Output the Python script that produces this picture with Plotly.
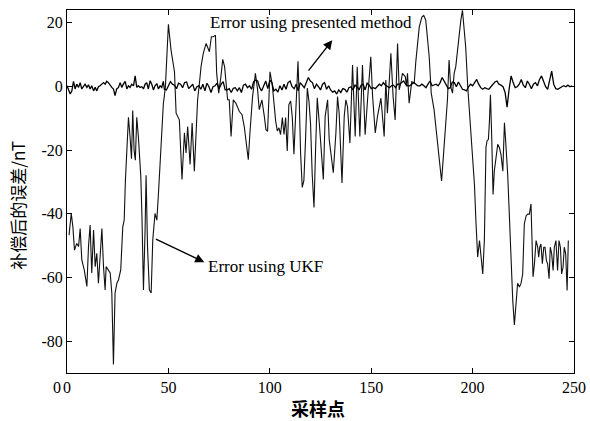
import plotly.graph_objects as go

# ---------------- data ----------------
ukf_x = [1.0, 2.1, 2.9, 3.7, 4.8, 5.7, 6.5, 7.3, 8.5, 9.8, 10.6, 11.4, 12.2, 13.1, 13.9, 14.7, 15.5, 16.3, 17.2, 18.0,
         18.8, 19.3, 20.1, 21.3, 22.1, 22.9, 23.7, 24.6, 25.4, 26.5, 27.5, 28.2, 28.8, 29.5, 30.3, 31.1, 31.8, 32.4, 33.1, 33.7,
         34.4, 35.2, 36.4, 37.0, 37.7, 38.5, 39.0, 39.7, 40.6, 41.5, 42.3, 43.4, 44.3, 45.1, 46.2, 47.5, 48.5, 49.2, 50.0,
         51.3, 53.0, 53.8, 55.4, 56.7, 57.9, 58.7, 59.5, 60.7, 61.7, 62.8, 63.6, 64.4, 65.3, 66.1, 67.2, 68.6, 70.2, 71.2, 72.2,
         73.2, 73.8, 74.8, 75.9, 76.8, 77.7, 78.4, 79.2, 80.0, 80.9, 82.0, 83.3, 85.0, 86.3, 87.4, 88.6, 89.4, 90.2, 91.5, 92.9,
         94.0, 94.8, 96.1, 97.3, 98.1, 98.9, 100.1,
         101.2, 102.1, 102.9, 103.7, 104.5, 105.3, 106.2, 107.0, 107.8, 108.6, 109.4, 110.3, 111.1, 111.9, 112.7, 113.9, 114.4,
         115.2, 116.0, 116.8, 117.6, 118.5, 119.3, 120.1, 120.9, 121.8, 122.6, 123.4,
         124.4, 125.7, 126.4, 127.3, 128.5, 129.3, 130.1, 131.3, 132.6, 133.4, 134.2, 135.6, 136.7, 137.5, 138.3, 139.5, 140.8,
         142.1, 143.1, 144.4, 145.7, 147.0, 148.2, 149.8, 150.7, 152.0, 153.1, 154.8, 156.4, 157.2, 158.0, 158.9, 159.7, 160.8,
         161.8, 163.0, 163.8, 164.6, 165.4, 166.8, 167.4, 167.9, 168.7, 170.0, 171.2, 172.0, 172.8, 173.7, 175.0, 175.9, 176.9,
         177.8, 178.6, 179.6, 181.0, 182.2, 183.5, 184.7, 185.6, 186.8, 187.6, 188.4, 189.2, 190.1, 190.9, 191.7, 193.0, 194.2,
         195.0, 195.8, 196.6, 197.6, 199.1, 200.1,
         200.9, 201.7, 202.5, 203.4, 204.2, 205.0, 205.8, 206.6, 207.1, 207.8, 208.3, 208.8, 209.4, 210.1, 210.7, 211.6, 212.4,
         213.2, 214.0, 214.9, 215.4, 215.7, 216.3, 217.3, 218.1, 218.9, 219.8, 220.6, 221.4, 222.2, 223.1, 223.9, 224.7, 225.5,
         226.4, 227.2, 228.0, 228.8, 229.3, 229.8, 230.5, 231.3, 232.1, 232.6, 233.1, 233.7, 234.4, 235.1, 235.7, 236.4, 237.0,
         237.7, 238.3, 239.0, 239.7, 240.3, 241.1, 241.9, 242.6, 243.3, 243.9, 244.6, 245.2, 245.9, 246.6, 247.2]

ukf_y = [-46.7, -39.9, -44.1, -51.4, -49.3, -50.3, -44.6, -54.5, -57.6, -62.8, -50.3, -43.5, -58.6, -45.1, -56.6, -52.4,
         -61.8, -52.4, -44.6, -56.6, -63.9, -56.6, -57.6, -58.6, -64.9, -87.3, -64.9, -61.8, -60.7, -57.6, -44.1, -42.0,
         -29.5, -21.1, -9.7, -15.9, -22.7, -7.6, -20.1, -23.2, -9.7, -15.9, -28.4, -42.0, -63.9, -45.1, -27.9, -50.3, -63.9,
         -64.9, -48.2, -39.9, -42.0, -33.6, -20.1, -5.5, -0.3, 9.1, 19.5,
         11.4, 4.6, -8.4, -10.5, -29.2, -14.6, -20.9, -12.6, -24.5, -11.5, -26.6, -16.7, -4.2, 1.0, 6.2, 10.4, 13.5, 10.9,
         15.6, 15.6, 16.1, 4.1, -2.1, 3.1, 8.5, 6.2, 0.0, -4.2, -4.2, -15.7, -4.2, -5.3, -7.9, -8.9, -12.6, -18.8, -23.0,
         -14.6, -3.2, 4.1, -1.1, -7.3, -4.2, -9.4, -13.6, -14.1, 4.6,
         0.6, -6.7, -10.9, -14.0, -13.0, -15.1, -9.8, -15.1, -9.8, -20.3, -5.7, -4.6, -9.8, -21.3, -9.8, 7.9, -1.5, -21.3,
         -31.7, -29.6, -17.1, -0.5, -4.6, -11.9, -27.6, -38.0, -19.2, -3.6,
         -11.5, -23.0, -29.2, -9.4, -4.2, -16.7, -20.9, -27.1, -14.6, -3.2, -8.4, -30.3, -9.4, -4.2, -6.3, -17.8, 6.7, -15.7,
         6.2, -15.7, 6.7, -15.2, -4.2, 9.3, -3.2, -14.6, -9.4, -3.7, -15.7, 2.0, -8.4, 3.1, 10.4, -3.2, -10.5, 13.5, -1.1,
         1.0, 4.1, 3.1, 0.0, 4.1, -5.3, 1.5, 1.0, 7.8, 13.5, 18.7, 21.8, 22.3, 20.8, 14.5, 9.3, -2.1, -7.3, -14.6, -21.9,
         -29.7, -21.9, -11.5, -4.2, 8.3, -0.1, -2.1, 4.1, 6.2, 14.5, 20.8, 23.9, 17.7, 12.4, -0.1, -14.6, -23.4,
         -30.7, -43.2, -53.6, -48.4, -53.1, -58.9, -48.4, -19.2, -17.1, -16.6, -10.9, -2.6, -15.1, -33.9, -26.6, -21.4, -18.2,
         -19.2, -21.4, -26.6, -17.1, -11.4, -17.1, -27.6, -40.1, -54.7, -67.2, -74.9, -67.2, -61.8, -63.0, -61.8, -58.9,
         -43.2, -40.6, -40.1, -40.1, -36.9, -48.4, -59.8, -55.7, -48.4, -50.5, -53.6, -50.5, -49.5, -55.7, -50.5, -50.5,
         -54.7, -55.7, -60.4, -50.5, -52.6, -57.8, -50.5, -48.4, -57.8, -48.4, -50.5, -58.9, -56.8, -50.5, -52.6, -64.1, -48.4]

pm_x_start = [0, 0.7, 1.6, 2.4, 3.2, 4.0, 4.8, 5.7, 6.5, 7.3, 8.1, 8.9, 9.8, 10.6, 11.4, 12.2, 13.1, 13.9, 14.7, 15.5,
              16.3, 17.2, 18.0, 18.8, 19.6, 20.4, 21.3, 22.1, 22.9, 23.7, 24.5, 25.4, 26.2, 27.0, 27.8, 28.7, 29.5, 30.3,
              31.1, 31.9, 32.8, 33.6, 34.4, 35.2, 36.0, 36.9, 37.7, 38.5, 39.3, 40.1, 41.0, 41.8, 42.6, 43.4, 44.3, 45.1,
              45.9, 46.7, 47.5]
pm_y_start = [0.2, -0.8, -2.4, -1.4, 1.6, -0.8, 0.7, -0.3, 1.2, -0.8, 0.2, 0.7, -0.3, 0.5, -0.8, 0.2, -1.4, -0.3, -1.4,
              -0.1, 0.2, 0.7, 1.2, 0.7, 1.6, 1.2, 0.2, -0.3, -0.8, -2.9, -0.8, -0.3, 1.2, -0.3, 0.7, 1.6, -0.8, 0.2, -0.3,
              0.7, 0.2, 3.3, -0.3, 0.2, -0.3, -0.1, -0.8, 0.7, 1.2, -0.8, 1.8, 0.7, -1.1, 0.2, 0.9, -0.8, 0.2, -0.3, 1.6]

pm_x_rest = list(range(48, 250))
pm_y_rest = [-0.9, -1.1, 0.2, 1.5, 0.7, 0.4, -0.7, 1.0, 0.7, -0.4,
             1.2, 1.4, -0.7, -0.1, 0.7, -1.4, -0.2, 0.2, -0.9, 0.7,
             -1.4, 1.0, -0.1, -1.9, -0.1, 0.2, 1.0, -0.7, 0.7, 1.5,
             -1.1, -1.1, -0.7, -1.9, -0.6, -0.4, -1.4, -0.4, -1.9, 0.4,
             0.7, -0.4, 0.2, -0.9, 1.4, 2.0, 1.7, -0.4, -1.4, 0.2,
             1.7, -0.7, 2.0, 1.2, -1.4, -0.9, -1.8, 0.2, -1.1, 0.7,
             -0.9, 1.2, 1.7, -0.1, -0.7, 0.7, -1.4, 1.2, 0.2, -0.4,
             1.2, 2.8, 1.7, 1.2, -0.7, 0.7, -0.1, -1.1, 0.7, 1.2,
             -0.9, 0.2, -1.1, -1.8, -1.4, -2.4, -1.1, -1.9, -0.7, -0.9,
             -1.8, -0.4, -0.1, -1.1, 0.4, -0.1, -1.1, 0.4, 0.7, -1.1,
             1.0, 0.4, -0.7,
             -0.4, -0.7, -0.1, 0.7, 0.2, 1.2, 0.4, -0.1, -0.4, 0.2,
             0.4, -0.4, 0.7, 0.7, 1.2, 1.7, 0.7, 0.2, 0.2, 0.7,
             1.2, 0.7, 0.2, 0.2, 0.7, 0.2, -0.4, 0.7, 1.7, 0.2,
             0.4, 0.7, 0.2, 1.2, 2.8, 1.7, 0.4, -0.7, -0.4, 1.4,
             1.2, -0.1, 1.4, 0.2, -0.9, -1.1, -1.4, -0.1, 0.7, 0.2,
             1.2, 2.2, 0.7, -0.4, -0.9, -0.4, -0.7, -0.9, -0.1, 0.7,
             1.4, 1.7, 0.7, 0.4, -0.1, -1.8, -6.5, -0.9, 3.3, 1.2,
             -0.4, -0.1, 0.7, 2.2, 0.4, -0.4, 1.7, 0.7, -0.7, 0.7,
             1.2, 0.2, 2.2, 3.3, 1.2, -0.1, -0.9, 2.2, 4.8, 0.7,
             -0.7, -0.9, -0.4, -0.1, 0.2, -0.1, 0.4, -0.1, 0.2]

pm_x = pm_x_start + pm_x_rest
pm_y = pm_y_start + pm_y_rest

x_ticks = [0, 50, 100, 150, 200, 250]
x_tick_text = ["0", "50", "100", "150", "200", "250"]
y_ticks = [-80, -60, -40, -20, 0, 20]
y_tick_text = ["-80", "-60", "-40", "-20", "0", "20"]

label_pm = "Error using presented method"
label_ukf = "Error using UKF"
x_title = "采样点"
y_title = "补偿后的误差/nT"

# ---------------- figure ----------------
fig = go.Figure()
fig.add_trace(go.Scatter(x=ukf_x, y=ukf_y, mode="lines",
                         line=dict(color="#111111", width=1.1), showlegend=False))
fig.add_trace(go.Scatter(x=pm_x, y=pm_y, mode="lines",
                         line=dict(color="#000000", width=1.3), showlegend=False))

serif = "Liberation Serif, Times New Roman, serif"
cjk = "Noto Sans CJK SC, sans-serif"

axis_common = dict(showline=True, linecolor="black", linewidth=1, mirror="ticks",
                   ticks="inside", ticklen=5, tickwidth=1, tickcolor="black",
                   showgrid=False, zeroline=False, automargin=False,
                   tickfont=dict(family=serif, size=16, color="black"))

fig.update_xaxes(range=[0, 250], tickvals=x_ticks, ticktext=x_tick_text, **axis_common)
fig.update_yaxes(range=[-90, 24], tickvals=y_ticks, ticktext=y_tick_text, **axis_common)

annotations = [
    # arrow for presented method
    dict(x=130.8, y=14.5, ax=118.5, ay=4.5, xref="x", yref="y", axref="x", ayref="y",
         text="", showarrow=True, arrowhead=2, arrowsize=1.3, arrowwidth=1.4, arrowcolor="black", standoff=0),
    # arrow for UKF
    dict(x=67.7, y=-55.2, ax=43.1, ay=-47.7, xref="x", yref="y", axref="x", ayref="y",
         text="", showarrow=True, arrowhead=2, arrowsize=1.3, arrowwidth=1.4, arrowcolor="black", standoff=0),
    dict(x=120.4, y=20.2, xref="x", yref="y", text=label_pm, showarrow=False,
         font=dict(family=serif, size=17, color="black"), xanchor="center", yanchor="middle"),
    dict(x=97.8, y=-56.7, xref="x", yref="y", text=label_ukf, showarrow=False,
         font=dict(family=serif, size=17, color="black"), xanchor="center", yanchor="middle"),
    dict(x=0.495, y=-0.096, xref="paper", yref="paper", text="<b>" + x_title + "</b>", showarrow=False,
         font=dict(family=cjk, size=18, color="black"), xanchor="center", yanchor="middle"),
    dict(x=-0.097, y=0.463, xref="paper", yref="paper", text=y_title, showarrow=False, textangle=-90,
         font=dict(family=cjk, size=17, color="black"), xanchor="center", yanchor="middle"),
    dict(x=-0.02, y=-0.041, xref="paper", yref="paper", text="0", showarrow=False,
         font=dict(family=serif, size=16, color="black"), xanchor="center", yanchor="middle"),
]

fig.update_layout(width=590, height=421,
                  margin=dict(l=67, r=16, t=10, b=48, autoexpand=False),
                  paper_bgcolor="white", plot_bgcolor="white",
                  annotations=annotations)

fig.write_html("out.html")
